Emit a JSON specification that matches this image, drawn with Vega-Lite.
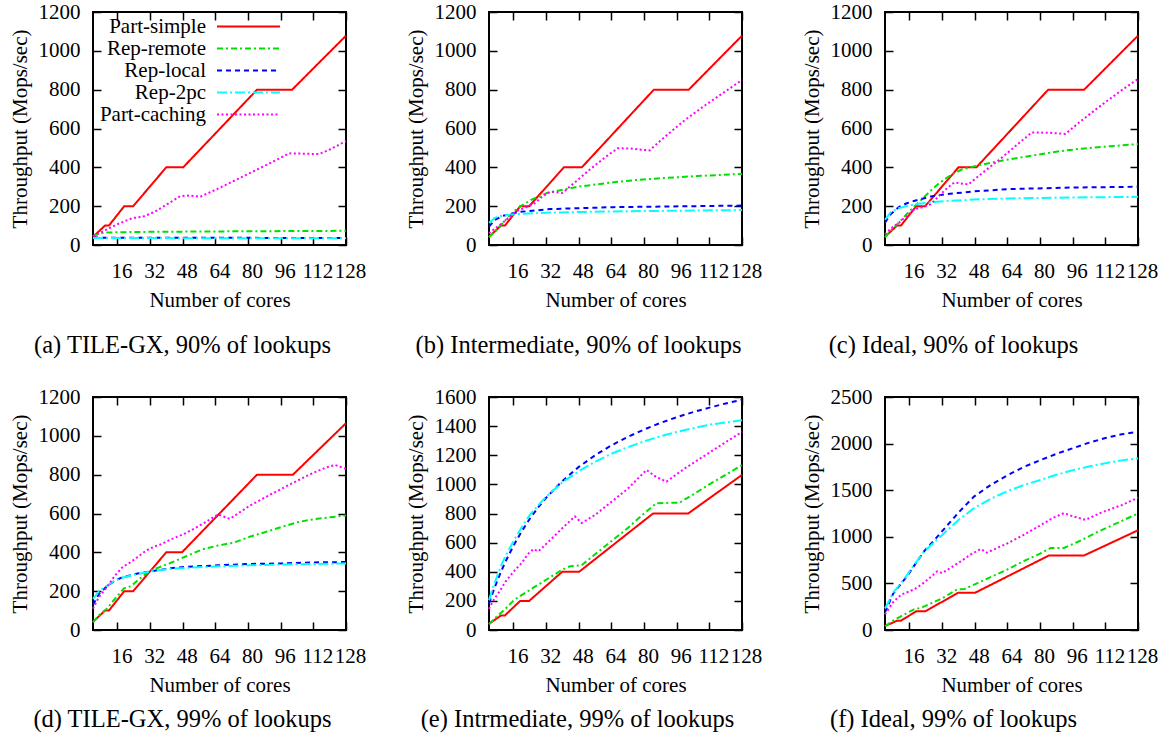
{
"$schema": "https://vega.github.io/schema/vega-lite/v6.json",
"background": "white",
"padding": {"left": 8, "top": 0, "right": 5, "bottom": 5},
"config": {
  "font": "Liberation Serif, Times New Roman, serif",
  "view": {"stroke": "black", "strokeWidth": 2},
  "style": {
    "guide-label": {"font": "Liberation Serif, Times New Roman, serif", "fontSize": 21, "fill": "black"},
    "guide-title": {"font": "Liberation Serif, Times New Roman, serif", "fontSize": 21, "fill": "black", "fontWeight": "normal"}
  },
  "axis": {"grid": false, "domain": false, "labelFontSize": 21, "labelColor": "black", "titleFontSize": 21, "titleFontWeight": "normal", "titleColor": "black", "tickColor": "black", "tickWidth": 1.5, "tickSize": -8, "labelFlush": false, "labelOverlap": false, "labelBound": false, "format": "d"},
  "axisX": {"labelPadding": 23, "titlePadding": 8},
  "axisY": {"labelPadding": 21, "titlePadding": 8},
  "title": {"font": "Liberation Serif, Times New Roman, serif", "fontSize": 24.5, "fontWeight": "normal", "color": "black", "orient": "bottom", "anchor": "middle", "frame": "group"},
  "legend": {"labelFontSize": 21, "labelColor": "black"}
},
"datasets": {
"a": [
{"s":"Part-simple","x":4,"y":42},{"s":"Part-simple","x":9.9,"y":100},{"s":"Part-simple","x":11.8,"y":100},{"s":"Part-simple","x":19.3,"y":200},{"s":"Part-simple","x":23.7,"y":200},{"s":"Part-simple","x":39.9,"y":400},{"s":"Part-simple","x":48.2,"y":400},{"s":"Part-simple","x":84.4,"y":800},{"s":"Part-simple","x":101.6,"y":800},{"s":"Part-simple","x":128,"y":1078},
{"s":"Rep-remote","x":4,"y":45},{"s":"Rep-remote","x":6.9,"y":58},{"s":"Rep-remote","x":10.8,"y":64},{"s":"Rep-remote","x":18.6,"y":66},{"s":"Rep-remote","x":34.1,"y":68},{"s":"Rep-remote","x":65.2,"y":70},{"s":"Rep-remote","x":128,"y":73},
{"s":"Rep-local","x":4,"y":40},{"s":"Rep-local","x":10,"y":37},{"s":"Rep-local","x":64,"y":37},{"s":"Rep-local","x":128,"y":36},
{"s":"Rep-2pc","x":4,"y":36},{"s":"Rep-2pc","x":64,"y":35},{"s":"Rep-2pc","x":128,"y":35},
{"s":"Part-caching","x":4,"y":45},{"s":"Part-caching","x":10.8,"y":80},{"s":"Part-caching","x":16.6,"y":110},{"s":"Part-caching","x":22.5,"y":135},{"s":"Part-caching","x":24.4,"y":140},{"s":"Part-caching","x":28.3,"y":145},{"s":"Part-caching","x":34.1,"y":170},{"s":"Part-caching","x":41.9,"y":220},{"s":"Part-caching","x":46.8,"y":252},{"s":"Part-caching","x":51.6,"y":255},{"s":"Part-caching","x":56.5,"y":248},{"s":"Part-caching","x":65.2,"y":290},{"s":"Part-caching","x":80.8,"y":370},{"s":"Part-caching","x":90.5,"y":420},{"s":"Part-caching","x":100.2,"y":472},{"s":"Part-caching","x":108,"y":470},{"s":"Part-caching","x":114.8,"y":468},{"s":"Part-caching","x":119.7,"y":490},{"s":"Part-caching","x":128,"y":535}
],
"b": [
{"s":"Part-simple","x":4,"y":42},{"s":"Part-simple","x":9.9,"y":100},{"s":"Part-simple","x":11.8,"y":100},{"s":"Part-simple","x":19.3,"y":200},{"s":"Part-simple","x":23.7,"y":200},{"s":"Part-simple","x":40.7,"y":400},{"s":"Part-simple","x":49.5,"y":400},{"s":"Part-simple","x":84.8,"y":800},{"s":"Part-simple","x":101.9,"y":800},{"s":"Part-simple","x":128,"y":1078},
{"s":"Rep-remote","x":4,"y":40},{"s":"Rep-remote","x":7,"y":70},{"s":"Rep-remote","x":10,"y":105},{"s":"Rep-remote","x":14,"y":150},{"s":"Rep-remote","x":18,"y":190},{"s":"Rep-remote","x":21,"y":210},{"s":"Rep-remote","x":24.6,"y":232},{"s":"Rep-remote","x":32.7,"y":269},{"s":"Rep-remote","x":47.4,"y":300},{"s":"Rep-remote","x":67,"y":326},{"s":"Rep-remote","x":86.6,"y":343},{"s":"Rep-remote","x":106,"y":355},{"s":"Rep-remote","x":128,"y":366},
{"s":"Rep-local","x":4,"y":95},{"s":"Rep-local","x":6.9,"y":130},{"s":"Rep-local","x":10.8,"y":150},{"s":"Rep-local","x":18.6,"y":170},{"s":"Rep-local","x":34.1,"y":185},{"s":"Rep-local","x":65.2,"y":195},{"s":"Rep-local","x":128,"y":203},
{"s":"Rep-2pc","x":4,"y":115},{"s":"Rep-2pc","x":6.9,"y":140},{"s":"Rep-2pc","x":10.8,"y":152},{"s":"Rep-2pc","x":18.6,"y":160},{"s":"Rep-2pc","x":34.1,"y":167},{"s":"Rep-2pc","x":65.2,"y":173},{"s":"Rep-2pc","x":128,"y":180},
{"s":"Part-caching","x":4,"y":60},{"s":"Part-caching","x":6.9,"y":85},{"s":"Part-caching","x":10.8,"y":115},{"s":"Part-caching","x":14.7,"y":150},{"s":"Part-caching","x":18.6,"y":180},{"s":"Part-caching","x":22.5,"y":195},{"s":"Part-caching","x":26.4,"y":215},{"s":"Part-caching","x":30.2,"y":250},{"s":"Part-caching","x":34.1,"y":275},{"s":"Part-caching","x":40,"y":268},{"s":"Part-caching","x":45.8,"y":320},{"s":"Part-caching","x":53.6,"y":390},{"s":"Part-caching","x":61.3,"y":455},{"s":"Part-caching","x":67.1,"y":498},{"s":"Part-caching","x":73,"y":497},{"s":"Part-caching","x":82.7,"y":487},{"s":"Part-caching","x":90.5,"y":560},{"s":"Part-caching","x":100.2,"y":645},{"s":"Part-caching","x":110,"y":720},{"s":"Part-caching","x":119.7,"y":790},{"s":"Part-caching","x":128,"y":850}
],
"c": [
{"s":"Part-simple","x":4,"y":42},{"s":"Part-simple","x":9.9,"y":100},{"s":"Part-simple","x":11.8,"y":100},{"s":"Part-simple","x":19.3,"y":200},{"s":"Part-simple","x":23.7,"y":200},{"s":"Part-simple","x":40,"y":400},{"s":"Part-simple","x":48.8,"y":400},{"s":"Part-simple","x":84,"y":800},{"s":"Part-simple","x":101.6,"y":800},{"s":"Part-simple","x":128,"y":1078},
{"s":"Rep-remote","x":4,"y":40},{"s":"Rep-remote","x":6.9,"y":75},{"s":"Rep-remote","x":10.8,"y":115},{"s":"Rep-remote","x":14.7,"y":160},{"s":"Rep-remote","x":18.6,"y":200},{"s":"Rep-remote","x":22.5,"y":240},{"s":"Rep-remote","x":26.4,"y":280},{"s":"Rep-remote","x":30.2,"y":315},{"s":"Rep-remote","x":34.1,"y":345},{"s":"Rep-remote","x":38,"y":370},{"s":"Rep-remote","x":41.9,"y":390},{"s":"Rep-remote","x":47.7,"y":405},{"s":"Rep-remote","x":56.5,"y":425},{"s":"Rep-remote","x":65.2,"y":442},{"s":"Rep-remote","x":76.9,"y":462},{"s":"Rep-remote","x":88.6,"y":482},{"s":"Rep-remote","x":100.2,"y":496},{"s":"Rep-remote","x":113.9,"y":508},{"s":"Rep-remote","x":128,"y":520},
{"s":"Rep-local","x":4,"y":115},{"s":"Rep-local","x":6.9,"y":160},{"s":"Rep-local","x":10.8,"y":195},{"s":"Rep-local","x":14.7,"y":215},{"s":"Rep-local","x":18.6,"y":228},{"s":"Rep-local","x":26.4,"y":250},{"s":"Rep-local","x":34.1,"y":262},{"s":"Rep-local","x":49.7,"y":278},{"s":"Rep-local","x":65.2,"y":288},{"s":"Rep-local","x":96.3,"y":296},{"s":"Rep-local","x":128,"y":300},
{"s":"Rep-2pc","x":4,"y":130},{"s":"Rep-2pc","x":6.9,"y":170},{"s":"Rep-2pc","x":10.8,"y":190},{"s":"Rep-2pc","x":18.6,"y":210},{"s":"Rep-2pc","x":26.4,"y":220},{"s":"Rep-2pc","x":34.1,"y":227},{"s":"Rep-2pc","x":49.7,"y":235},{"s":"Rep-2pc","x":65.2,"y":240},{"s":"Rep-2pc","x":96.3,"y":245},{"s":"Rep-2pc","x":128,"y":248},
{"s":"Part-caching","x":4,"y":55},{"s":"Part-caching","x":6.9,"y":85},{"s":"Part-caching","x":10.8,"y":115},{"s":"Part-caching","x":14.7,"y":150},{"s":"Part-caching","x":18.6,"y":185},{"s":"Part-caching","x":22.5,"y":195},{"s":"Part-caching","x":26.4,"y":210},{"s":"Part-caching","x":30.2,"y":250},{"s":"Part-caching","x":34.1,"y":290},{"s":"Part-caching","x":38,"y":322},{"s":"Part-caching","x":44.8,"y":312},{"s":"Part-caching","x":51.6,"y":370},{"s":"Part-caching","x":61.3,"y":450},{"s":"Part-caching","x":69.1,"y":520},{"s":"Part-caching","x":76,"y":580},{"s":"Part-caching","x":84.7,"y":578},{"s":"Part-caching","x":92.4,"y":572},{"s":"Part-caching","x":100.2,"y":640},{"s":"Part-caching","x":110,"y":720},{"s":"Part-caching","x":119.7,"y":795},{"s":"Part-caching","x":128,"y":855}
],
"d": [
{"s":"Part-simple","x":4,"y":42},{"s":"Part-simple","x":9.9,"y":100},{"s":"Part-simple","x":11.8,"y":100},{"s":"Part-simple","x":19.3,"y":200},{"s":"Part-simple","x":23.7,"y":200},{"s":"Part-simple","x":39.9,"y":400},{"s":"Part-simple","x":47.6,"y":400},{"s":"Part-simple","x":84.4,"y":800},{"s":"Part-simple","x":102,"y":800},{"s":"Part-simple","x":128,"y":1065},
{"s":"Rep-remote","x":4,"y":40},{"s":"Rep-remote","x":6.9,"y":75},{"s":"Rep-remote","x":10.8,"y":110},{"s":"Rep-remote","x":14.7,"y":160},{"s":"Rep-remote","x":19.2,"y":215},{"s":"Rep-remote","x":22.5,"y":225},{"s":"Rep-remote","x":26.4,"y":260},{"s":"Rep-remote","x":31.9,"y":305},{"s":"Rep-remote","x":41.9,"y":345},{"s":"Rep-remote","x":49.7,"y":380},{"s":"Rep-remote","x":57.5,"y":415},{"s":"Rep-remote","x":65.2,"y":435},{"s":"Rep-remote","x":73,"y":450},{"s":"Rep-remote","x":80.8,"y":480},{"s":"Rep-remote","x":88.6,"y":505},{"s":"Rep-remote","x":96.3,"y":530},{"s":"Rep-remote","x":104.1,"y":555},{"s":"Rep-remote","x":111.9,"y":570},{"s":"Rep-remote","x":119.7,"y":580},{"s":"Rep-remote","x":128,"y":590},
{"s":"Rep-local","x":4,"y":130},{"s":"Rep-local","x":6.9,"y":185},{"s":"Rep-local","x":10.8,"y":225},{"s":"Rep-local","x":14.7,"y":255},{"s":"Rep-local","x":18.6,"y":272},{"s":"Rep-local","x":26.4,"y":292},{"s":"Rep-local","x":34.1,"y":305},{"s":"Rep-local","x":41.9,"y":318},{"s":"Rep-local","x":49.7,"y":325},{"s":"Rep-local","x":65.2,"y":333},{"s":"Rep-local","x":80.8,"y":340},{"s":"Rep-local","x":96.3,"y":343},{"s":"Rep-local","x":111.9,"y":348},{"s":"Rep-local","x":128,"y":350},
{"s":"Rep-2pc","x":4,"y":160},{"s":"Rep-2pc","x":6.9,"y":200},{"s":"Rep-2pc","x":10.8,"y":228},{"s":"Rep-2pc","x":14.7,"y":255},{"s":"Rep-2pc","x":18.6,"y":270},{"s":"Rep-2pc","x":26.4,"y":290},{"s":"Rep-2pc","x":34.1,"y":305},{"s":"Rep-2pc","x":41.9,"y":315},{"s":"Rep-2pc","x":49.7,"y":320},{"s":"Rep-2pc","x":65.2,"y":328},{"s":"Rep-2pc","x":80.8,"y":333},{"s":"Rep-2pc","x":96.3,"y":337},{"s":"Rep-2pc","x":111.9,"y":340},{"s":"Rep-2pc","x":128,"y":343},
{"s":"Part-caching","x":4,"y":110},{"s":"Part-caching","x":6.9,"y":170},{"s":"Part-caching","x":10.8,"y":220},{"s":"Part-caching","x":14.7,"y":280},{"s":"Part-caching","x":18.6,"y":325},{"s":"Part-caching","x":22.5,"y":350},{"s":"Part-caching","x":26.4,"y":380},{"s":"Part-caching","x":30.2,"y":410},{"s":"Part-caching","x":34.1,"y":430},{"s":"Part-caching","x":37,"y":440},{"s":"Part-caching","x":41.9,"y":465},{"s":"Part-caching","x":49.7,"y":500},{"s":"Part-caching","x":57.5,"y":545},{"s":"Part-caching","x":65.2,"y":595},{"s":"Part-caching","x":71.1,"y":572},{"s":"Part-caching","x":80.8,"y":640},{"s":"Part-caching","x":90.5,"y":695},{"s":"Part-caching","x":100.2,"y":748},{"s":"Part-caching","x":110,"y":800},{"s":"Part-caching","x":117.7,"y":835},{"s":"Part-caching","x":122.6,"y":850},{"s":"Part-caching","x":128,"y":830}
],
"e": [
{"s":"Part-simple","x":4,"y":42},{"s":"Part-simple","x":9.9,"y":100},{"s":"Part-simple","x":11.8,"y":100},{"s":"Part-simple","x":19.3,"y":200},{"s":"Part-simple","x":23.7,"y":200},{"s":"Part-simple","x":39.9,"y":400},{"s":"Part-simple","x":48.2,"y":400},{"s":"Part-simple","x":84.4,"y":800},{"s":"Part-simple","x":101.6,"y":800},{"s":"Part-simple","x":128,"y":1065},
{"s":"Rep-remote","x":4,"y":40},{"s":"Rep-remote","x":8,"y":95},{"s":"Rep-remote","x":12,"y":145},{"s":"Rep-remote","x":16.2,"y":205},{"s":"Rep-remote","x":20,"y":240},{"s":"Rep-remote","x":24,"y":275},{"s":"Rep-remote","x":32,"y":345},{"s":"Rep-remote","x":40,"y":415},{"s":"Rep-remote","x":43.7,"y":438},{"s":"Rep-remote","x":49.4,"y":445},{"s":"Rep-remote","x":56,"y":520},{"s":"Rep-remote","x":64,"y":610},{"s":"Rep-remote","x":72,"y":700},{"s":"Rep-remote","x":80,"y":800},{"s":"Rep-remote","x":86.1,"y":871},{"s":"Rep-remote","x":97.5,"y":875},{"s":"Rep-remote","x":104,"y":930},{"s":"Rep-remote","x":112,"y":1000},{"s":"Rep-remote","x":120,"y":1065},{"s":"Rep-remote","x":128,"y":1133},
{"s":"Rep-local","x":4,"y":185},{"s":"Rep-local","x":6,"y":262},{"s":"Rep-local","x":8,"y":336},{"s":"Rep-local","x":10,"y":404},{"s":"Rep-local","x":12,"y":467},{"s":"Rep-local","x":16,"y":579},{"s":"Rep-local","x":20,"y":677},{"s":"Rep-local","x":24,"y":764},{"s":"Rep-local","x":28,"y":840},{"s":"Rep-local","x":32,"y":908},{"s":"Rep-local","x":40,"y":1024},{"s":"Rep-local","x":48,"y":1120},{"s":"Rep-local","x":56,"y":1200},{"s":"Rep-local","x":64,"y":1268},{"s":"Rep-local","x":72,"y":1326},{"s":"Rep-local","x":80,"y":1377},{"s":"Rep-local","x":88,"y":1422},{"s":"Rep-local","x":96,"y":1461},{"s":"Rep-local","x":104,"y":1496},{"s":"Rep-local","x":112,"y":1527},{"s":"Rep-local","x":120,"y":1556},{"s":"Rep-local","x":128,"y":1581},
{"s":"Rep-2pc","x":4,"y":205},{"s":"Rep-2pc","x":6,"y":295},{"s":"Rep-2pc","x":8,"y":370},{"s":"Rep-2pc","x":10,"y":445},{"s":"Rep-2pc","x":12,"y":505},{"s":"Rep-2pc","x":16,"y":610},{"s":"Rep-2pc","x":20,"y":705},{"s":"Rep-2pc","x":24,"y":790},{"s":"Rep-2pc","x":28,"y":855},{"s":"Rep-2pc","x":32,"y":915},{"s":"Rep-2pc","x":40,"y":1015},{"s":"Rep-2pc","x":48,"y":1090},{"s":"Rep-2pc","x":56,"y":1155},{"s":"Rep-2pc","x":64,"y":1210},{"s":"Rep-2pc","x":72,"y":1255},{"s":"Rep-2pc","x":80,"y":1295},{"s":"Rep-2pc","x":88,"y":1330},{"s":"Rep-2pc","x":96,"y":1360},{"s":"Rep-2pc","x":104,"y":1385},{"s":"Rep-2pc","x":112,"y":1410},{"s":"Rep-2pc","x":120,"y":1425},{"s":"Rep-2pc","x":128,"y":1441},
{"s":"Part-caching","x":4,"y":145},{"s":"Part-caching","x":6,"y":200},{"s":"Part-caching","x":9.4,"y":270},{"s":"Part-caching","x":12,"y":330},{"s":"Part-caching","x":16.2,"y":403},{"s":"Part-caching","x":20,"y":460},{"s":"Part-caching","x":23,"y":520},{"s":"Part-caching","x":25.7,"y":555},{"s":"Part-caching","x":28.2,"y":540},{"s":"Part-caching","x":32,"y":590},{"s":"Part-caching","x":40,"y":700},{"s":"Part-caching","x":46.1,"y":780},{"s":"Part-caching","x":49.4,"y":735},{"s":"Part-caching","x":56,"y":790},{"s":"Part-caching","x":64,"y":880},{"s":"Part-caching","x":72,"y":970},{"s":"Part-caching","x":81.2,"y":1099},{"s":"Part-caching","x":86,"y":1050},{"s":"Part-caching","x":91,"y":1019},{"s":"Part-caching","x":100,"y":1110},{"s":"Part-caching","x":110,"y":1200},{"s":"Part-caching","x":120,"y":1290},{"s":"Part-caching","x":128,"y":1360}
],
"f": [
{"s":"Part-simple","x":4,"y":42},{"s":"Part-simple","x":9.9,"y":100},{"s":"Part-simple","x":11.8,"y":100},{"s":"Part-simple","x":19.3,"y":200},{"s":"Part-simple","x":23.7,"y":200},{"s":"Part-simple","x":39.9,"y":400},{"s":"Part-simple","x":48.2,"y":400},{"s":"Part-simple","x":84.4,"y":800},{"s":"Part-simple","x":101.6,"y":800},{"s":"Part-simple","x":128,"y":1070},
{"s":"Rep-remote","x":4,"y":40},{"s":"Rep-remote","x":8,"y":100},{"s":"Rep-remote","x":12,"y":150},{"s":"Rep-remote","x":18.2,"y":221},{"s":"Rep-remote","x":22,"y":240},{"s":"Rep-remote","x":26,"y":280},{"s":"Rep-remote","x":32,"y":340},{"s":"Rep-remote","x":39.4,"y":435},{"s":"Rep-remote","x":43,"y":440},{"s":"Rep-remote","x":48,"y":490},{"s":"Rep-remote","x":56,"y":570},{"s":"Rep-remote","x":64,"y":650},{"s":"Rep-remote","x":72,"y":740},{"s":"Rep-remote","x":80,"y":820},{"s":"Rep-remote","x":85.2,"y":880},{"s":"Rep-remote","x":91.7,"y":880},{"s":"Rep-remote","x":100,"y":960},{"s":"Rep-remote","x":108,"y":1050},{"s":"Rep-remote","x":116,"y":1130},{"s":"Rep-remote","x":128,"y":1250},
{"s":"Rep-local","x":4,"y":190},{"s":"Rep-local","x":8,"y":390},{"s":"Rep-local","x":12,"y":500},{"s":"Rep-local","x":14.8,"y":577},{"s":"Rep-local","x":18,"y":680},{"s":"Rep-local","x":23.1,"y":844},{"s":"Rep-local","x":28,"y":960},{"s":"Rep-local","x":32,"y":1060},{"s":"Rep-local","x":40,"y":1260},{"s":"Rep-local","x":47.6,"y":1431},{"s":"Rep-local","x":56,"y":1560},{"s":"Rep-local","x":64,"y":1660},{"s":"Rep-local","x":72,"y":1750},{"s":"Rep-local","x":80.2,"y":1823},{"s":"Rep-local","x":88,"y":1890},{"s":"Rep-local","x":96,"y":1950},{"s":"Rep-local","x":104,"y":2010},{"s":"Rep-local","x":112,"y":2060},{"s":"Rep-local","x":120,"y":2100},{"s":"Rep-local","x":128,"y":2126},
{"s":"Rep-2pc","x":4,"y":230},{"s":"Rep-2pc","x":8,"y":400},{"s":"Rep-2pc","x":12,"y":510},{"s":"Rep-2pc","x":14.8,"y":590},{"s":"Rep-2pc","x":18,"y":690},{"s":"Rep-2pc","x":23.1,"y":840},{"s":"Rep-2pc","x":28,"y":940},{"s":"Rep-2pc","x":32,"y":1020},{"s":"Rep-2pc","x":40,"y":1180},{"s":"Rep-2pc","x":47.6,"y":1307},{"s":"Rep-2pc","x":56,"y":1410},{"s":"Rep-2pc","x":64,"y":1490},{"s":"Rep-2pc","x":72,"y":1555},{"s":"Rep-2pc","x":80.2,"y":1610},{"s":"Rep-2pc","x":88,"y":1665},{"s":"Rep-2pc","x":96,"y":1715},{"s":"Rep-2pc","x":104,"y":1755},{"s":"Rep-2pc","x":112,"y":1790},{"s":"Rep-2pc","x":120,"y":1820},{"s":"Rep-2pc","x":128,"y":1841},
{"s":"Part-caching","x":4,"y":168},{"s":"Part-caching","x":8,"y":300},{"s":"Part-caching","x":12,"y":380},{"s":"Part-caching","x":18.2,"y":435},{"s":"Part-caching","x":22,"y":490},{"s":"Part-caching","x":26,"y":560},{"s":"Part-caching","x":29.6,"y":630},{"s":"Part-caching","x":32,"y":610},{"s":"Part-caching","x":40,"y":720},{"s":"Part-caching","x":46,"y":810},{"s":"Part-caching","x":50.9,"y":870},{"s":"Part-caching","x":54,"y":830},{"s":"Part-caching","x":64,"y":930},{"s":"Part-caching","x":72,"y":1020},{"s":"Part-caching","x":80,"y":1120},{"s":"Part-caching","x":86,"y":1200},{"s":"Part-caching","x":91.7,"y":1254},{"s":"Part-caching","x":96,"y":1220},{"s":"Part-caching","x":102.3,"y":1182},{"s":"Part-caching","x":110,"y":1260},{"s":"Part-caching","x":120,"y":1340},{"s":"Part-caching","x":128,"y":1420}
]
},
"columns": 3,
"spacing": {"row": 152, "column": 143},
"bounds": "flush",
"resolve": {"scale": {"color": "independent", "strokeDash": "independent"}},
"concat": [
{"width": 253, "height": 233, "data": {"name": "a"}, "title": {"text": "(a)  TILE-GX, 90% of lookups", "offset": 24, "dx": -37},
 "layer": [
  {"mark": {"type": "line", "strokeWidth": 2},
   "encoding": {
    "x": {"field": "x", "type": "quantitative", "scale": {"domain": [4, 128], "nice": false, "zero": false}, "axis": {"orient": "bottom", "values": [16, 32, 48, 64, 80, 96, 112, 128], "title": "Number of cores", "labelOffset": 4, "encode": {"labels": {"update": {"font": {"value": "Liberation Serif, Times New Roman, serif"}}}, "title": {"update": {"font": {"value": "Liberation Serif, Times New Roman, serif"}}}}}},
    "y": {"field": "y", "type": "quantitative", "scale": {"domain": [0, 1200], "nice": false}, "axis": {"orient": "left", "values": [0, 200, 400, 600, 800, 1000, 1200], "title": "Throughput (Mops/sec)", "encode": {"labels": {"update": {"font": {"value": "Liberation Serif, Times New Roman, serif"}}}, "title": {"update": {"font": {"value": "Liberation Serif, Times New Roman, serif"}}}}}},
    "color": {"field": "s", "type": "nominal", "scale": {"domain": ["Part-simple", "Rep-remote", "Rep-local", "Rep-2pc", "Part-caching"], "range": ["#ff0000", "#00e000", "#0000ff", "#00ffff", "#ff00ff"]},
      "legend": {"orient": "none", "legendX": 113, "legendY": 4, "title": null, "symbolType": "M-3.5,0H3.5", "symbolSize": 324, "symbolOffset": 32, "symbolStrokeWidth": 2, "labelAlign": "right", "labelOffset": -53, "rowPadding": 0, "padding": 0, "labelLimit": 0, "labelFontSize": 21, "encode": {"labels": {"update": {"font": {"value": "Liberation Serif, Times New Roman, serif"}}}}}},
    "strokeDash": {"field": "s", "type": "nominal", "scale": {"domain": ["Part-simple", "Rep-remote", "Rep-local", "Rep-2pc", "Part-caching"], "range": [[1, 0], [6, 3, 2, 3], [5, 4], [10, 3, 2, 3], [2, 2.5]]},
      "legend": {"orient": "none", "legendX": 113, "legendY": 4, "title": null, "symbolType": "M-3.5,0H3.5", "symbolSize": 324, "symbolOffset": 32, "symbolStrokeWidth": 2, "labelAlign": "right", "labelOffset": -53, "rowPadding": 0, "padding": 0, "labelLimit": 0, "labelFontSize": 21, "encode": {"labels": {"update": {"font": {"value": "Liberation Serif, Times New Roman, serif"}}}}}}
   }},
  {"mark": {"type": "point", "opacity": 0},
   "encoding": {
    "x": {"field": "x", "type": "quantitative", "axis": {"orient": "top", "labels": false, "title": null, "values": [16, 32, 48, 64, 80, 96, 112, 128]}},
    "y": {"field": "y", "type": "quantitative", "axis": {"orient": "right", "labels": false, "title": null, "values": [0, 200, 400, 600, 800, 1000, 1200]}}
   }}
 ],
 "resolve": {"axis": {"x": "independent", "y": "independent"}}
},
{"width": 253, "height": 233, "data": {"name": "b"}, "title": {"text": "(b)  Intermediate, 90% of lookups", "offset": 24, "dx": -37},
 "layer": [
  {"mark": {"type": "line", "strokeWidth": 2},
   "encoding": {
    "x": {"field": "x", "type": "quantitative", "scale": {"domain": [4, 128], "nice": false, "zero": false}, "axis": {"orient": "bottom", "values": [16, 32, 48, 64, 80, 96, 112, 128], "title": "Number of cores", "labelOffset": 4, "encode": {"labels": {"update": {"font": {"value": "Liberation Serif, Times New Roman, serif"}}}, "title": {"update": {"font": {"value": "Liberation Serif, Times New Roman, serif"}}}}}},
    "y": {"field": "y", "type": "quantitative", "scale": {"domain": [0, 1200], "nice": false}, "axis": {"orient": "left", "values": [0, 200, 400, 600, 800, 1000, 1200], "title": "Throughput (Mops/sec)", "encode": {"labels": {"update": {"font": {"value": "Liberation Serif, Times New Roman, serif"}}}, "title": {"update": {"font": {"value": "Liberation Serif, Times New Roman, serif"}}}}}},
    "color": {"field": "s", "type": "nominal", "scale": {"domain": ["Part-simple", "Rep-remote", "Rep-local", "Rep-2pc", "Part-caching"], "range": ["#ff0000", "#00e000", "#0000ff", "#00ffff", "#ff00ff"]}, "legend": null},
    "strokeDash": {"field": "s", "type": "nominal", "scale": {"domain": ["Part-simple", "Rep-remote", "Rep-local", "Rep-2pc", "Part-caching"], "range": [[1, 0], [6, 3, 2, 3], [5, 4], [10, 3, 2, 3], [2, 2.5]]}, "legend": null}
   }},
  {"mark": {"type": "point", "opacity": 0},
   "encoding": {
    "x": {"field": "x", "type": "quantitative", "axis": {"orient": "top", "labels": false, "title": null, "values": [16, 32, 48, 64, 80, 96, 112, 128]}},
    "y": {"field": "y", "type": "quantitative", "axis": {"orient": "right", "labels": false, "title": null, "values": [0, 200, 400, 600, 800, 1000, 1200]}}
   }}
 ],
 "resolve": {"axis": {"x": "independent", "y": "independent"}}
},
{"width": 253, "height": 233, "data": {"name": "c"}, "title": {"text": "(c)  Ideal, 90% of lookups", "offset": 24, "dx": -58},
 "layer": [
  {"mark": {"type": "line", "strokeWidth": 2},
   "encoding": {
    "x": {"field": "x", "type": "quantitative", "scale": {"domain": [4, 128], "nice": false, "zero": false}, "axis": {"orient": "bottom", "values": [16, 32, 48, 64, 80, 96, 112, 128], "title": "Number of cores", "labelOffset": 4, "encode": {"labels": {"update": {"font": {"value": "Liberation Serif, Times New Roman, serif"}}}, "title": {"update": {"font": {"value": "Liberation Serif, Times New Roman, serif"}}}}}},
    "y": {"field": "y", "type": "quantitative", "scale": {"domain": [0, 1200], "nice": false}, "axis": {"orient": "left", "values": [0, 200, 400, 600, 800, 1000, 1200], "title": "Throughput (Mops/sec)", "encode": {"labels": {"update": {"font": {"value": "Liberation Serif, Times New Roman, serif"}}}, "title": {"update": {"font": {"value": "Liberation Serif, Times New Roman, serif"}}}}}},
    "color": {"field": "s", "type": "nominal", "scale": {"domain": ["Part-simple", "Rep-remote", "Rep-local", "Rep-2pc", "Part-caching"], "range": ["#ff0000", "#00e000", "#0000ff", "#00ffff", "#ff00ff"]}, "legend": null},
    "strokeDash": {"field": "s", "type": "nominal", "scale": {"domain": ["Part-simple", "Rep-remote", "Rep-local", "Rep-2pc", "Part-caching"], "range": [[1, 0], [6, 3, 2, 3], [5, 4], [10, 3, 2, 3], [2, 2.5]]}, "legend": null}
   }},
  {"mark": {"type": "point", "opacity": 0},
   "encoding": {
    "x": {"field": "x", "type": "quantitative", "axis": {"orient": "top", "labels": false, "title": null, "values": [16, 32, 48, 64, 80, 96, 112, 128]}},
    "y": {"field": "y", "type": "quantitative", "axis": {"orient": "right", "labels": false, "title": null, "values": [0, 200, 400, 600, 800, 1000, 1200]}}
   }}
 ],
 "resolve": {"axis": {"x": "independent", "y": "independent"}}
},
{"width": 253, "height": 233, "data": {"name": "d"}, "title": {"text": "(d)  TILE-GX, 99% of lookups", "offset": 13, "dx": -37},
 "layer": [
  {"mark": {"type": "line", "strokeWidth": 2},
   "encoding": {
    "x": {"field": "x", "type": "quantitative", "scale": {"domain": [4, 128], "nice": false, "zero": false}, "axis": {"orient": "bottom", "values": [16, 32, 48, 64, 80, 96, 112, 128], "title": "Number of cores", "labelOffset": 4, "encode": {"labels": {"update": {"font": {"value": "Liberation Serif, Times New Roman, serif"}}}, "title": {"update": {"font": {"value": "Liberation Serif, Times New Roman, serif"}}}}}},
    "y": {"field": "y", "type": "quantitative", "scale": {"domain": [0, 1200], "nice": false}, "axis": {"orient": "left", "values": [0, 200, 400, 600, 800, 1000, 1200], "title": "Throughput (Mops/sec)", "encode": {"labels": {"update": {"font": {"value": "Liberation Serif, Times New Roman, serif"}}}, "title": {"update": {"font": {"value": "Liberation Serif, Times New Roman, serif"}}}}}},
    "color": {"field": "s", "type": "nominal", "scale": {"domain": ["Part-simple", "Rep-remote", "Rep-local", "Rep-2pc", "Part-caching"], "range": ["#ff0000", "#00e000", "#0000ff", "#00ffff", "#ff00ff"]}, "legend": null},
    "strokeDash": {"field": "s", "type": "nominal", "scale": {"domain": ["Part-simple", "Rep-remote", "Rep-local", "Rep-2pc", "Part-caching"], "range": [[1, 0], [6, 3, 2, 3], [5, 4], [10, 3, 2, 3], [2, 2.5]]}, "legend": null}
   }},
  {"mark": {"type": "point", "opacity": 0},
   "encoding": {
    "x": {"field": "x", "type": "quantitative", "axis": {"orient": "top", "labels": false, "title": null, "values": [16, 32, 48, 64, 80, 96, 112, 128]}},
    "y": {"field": "y", "type": "quantitative", "axis": {"orient": "right", "labels": false, "title": null, "values": [0, 200, 400, 600, 800, 1000, 1200]}}
   }}
 ],
 "resolve": {"axis": {"x": "independent", "y": "independent"}}
},
{"width": 253, "height": 233, "data": {"name": "e"}, "title": {"text": "(e)  Intrmediate, 99% of lookups", "offset": 13, "dx": -38},
 "layer": [
  {"mark": {"type": "line", "strokeWidth": 2},
   "encoding": {
    "x": {"field": "x", "type": "quantitative", "scale": {"domain": [4, 128], "nice": false, "zero": false}, "axis": {"orient": "bottom", "values": [16, 32, 48, 64, 80, 96, 112, 128], "title": "Number of cores", "labelOffset": 4, "encode": {"labels": {"update": {"font": {"value": "Liberation Serif, Times New Roman, serif"}}}, "title": {"update": {"font": {"value": "Liberation Serif, Times New Roman, serif"}}}}}},
    "y": {"field": "y", "type": "quantitative", "scale": {"domain": [0, 1600], "nice": false}, "axis": {"orient": "left", "values": [0, 200, 400, 600, 800, 1000, 1200, 1400, 1600], "title": "Throughput (Mops/sec)", "encode": {"labels": {"update": {"font": {"value": "Liberation Serif, Times New Roman, serif"}}}, "title": {"update": {"font": {"value": "Liberation Serif, Times New Roman, serif"}}}}}},
    "color": {"field": "s", "type": "nominal", "scale": {"domain": ["Part-simple", "Rep-remote", "Rep-local", "Rep-2pc", "Part-caching"], "range": ["#ff0000", "#00e000", "#0000ff", "#00ffff", "#ff00ff"]}, "legend": null},
    "strokeDash": {"field": "s", "type": "nominal", "scale": {"domain": ["Part-simple", "Rep-remote", "Rep-local", "Rep-2pc", "Part-caching"], "range": [[1, 0], [6, 3, 2, 3], [5, 4], [10, 3, 2, 3], [2, 2.5]]}, "legend": null}
   }},
  {"mark": {"type": "point", "opacity": 0},
   "encoding": {
    "x": {"field": "x", "type": "quantitative", "axis": {"orient": "top", "labels": false, "title": null, "values": [16, 32, 48, 64, 80, 96, 112, 128]}},
    "y": {"field": "y", "type": "quantitative", "axis": {"orient": "right", "labels": false, "title": null, "values": [0, 200, 400, 600, 800, 1000, 1200, 1400, 1600]}}
   }}
 ],
 "resolve": {"axis": {"x": "independent", "y": "independent"}}
},
{"width": 253, "height": 233, "data": {"name": "f"}, "title": {"text": "(f)  Ideal, 99% of lookups", "offset": 13, "dx": -58},
 "layer": [
  {"mark": {"type": "line", "strokeWidth": 2},
   "encoding": {
    "x": {"field": "x", "type": "quantitative", "scale": {"domain": [4, 128], "nice": false, "zero": false}, "axis": {"orient": "bottom", "values": [16, 32, 48, 64, 80, 96, 112, 128], "title": "Number of cores", "labelOffset": 4, "encode": {"labels": {"update": {"font": {"value": "Liberation Serif, Times New Roman, serif"}}}, "title": {"update": {"font": {"value": "Liberation Serif, Times New Roman, serif"}}}}}},
    "y": {"field": "y", "type": "quantitative", "scale": {"domain": [0, 2500], "nice": false}, "axis": {"orient": "left", "values": [0, 500, 1000, 1500, 2000, 2500], "title": "Throughput (Mops/sec)", "encode": {"labels": {"update": {"font": {"value": "Liberation Serif, Times New Roman, serif"}}}, "title": {"update": {"font": {"value": "Liberation Serif, Times New Roman, serif"}}}}}},
    "color": {"field": "s", "type": "nominal", "scale": {"domain": ["Part-simple", "Rep-remote", "Rep-local", "Rep-2pc", "Part-caching"], "range": ["#ff0000", "#00e000", "#0000ff", "#00ffff", "#ff00ff"]}, "legend": null},
    "strokeDash": {"field": "s", "type": "nominal", "scale": {"domain": ["Part-simple", "Rep-remote", "Rep-local", "Rep-2pc", "Part-caching"], "range": [[1, 0], [6, 3, 2, 3], [5, 4], [10, 3, 2, 3], [2, 2.5]]}, "legend": null}
   }},
  {"mark": {"type": "point", "opacity": 0},
   "encoding": {
    "x": {"field": "x", "type": "quantitative", "axis": {"orient": "top", "labels": false, "title": null, "values": [16, 32, 48, 64, 80, 96, 112, 128]}},
    "y": {"field": "y", "type": "quantitative", "axis": {"orient": "right", "labels": false, "title": null, "values": [0, 500, 1000, 1500, 2000, 2500]}}
   }}
 ],
 "resolve": {"axis": {"x": "independent", "y": "independent"}}
}
]
}
